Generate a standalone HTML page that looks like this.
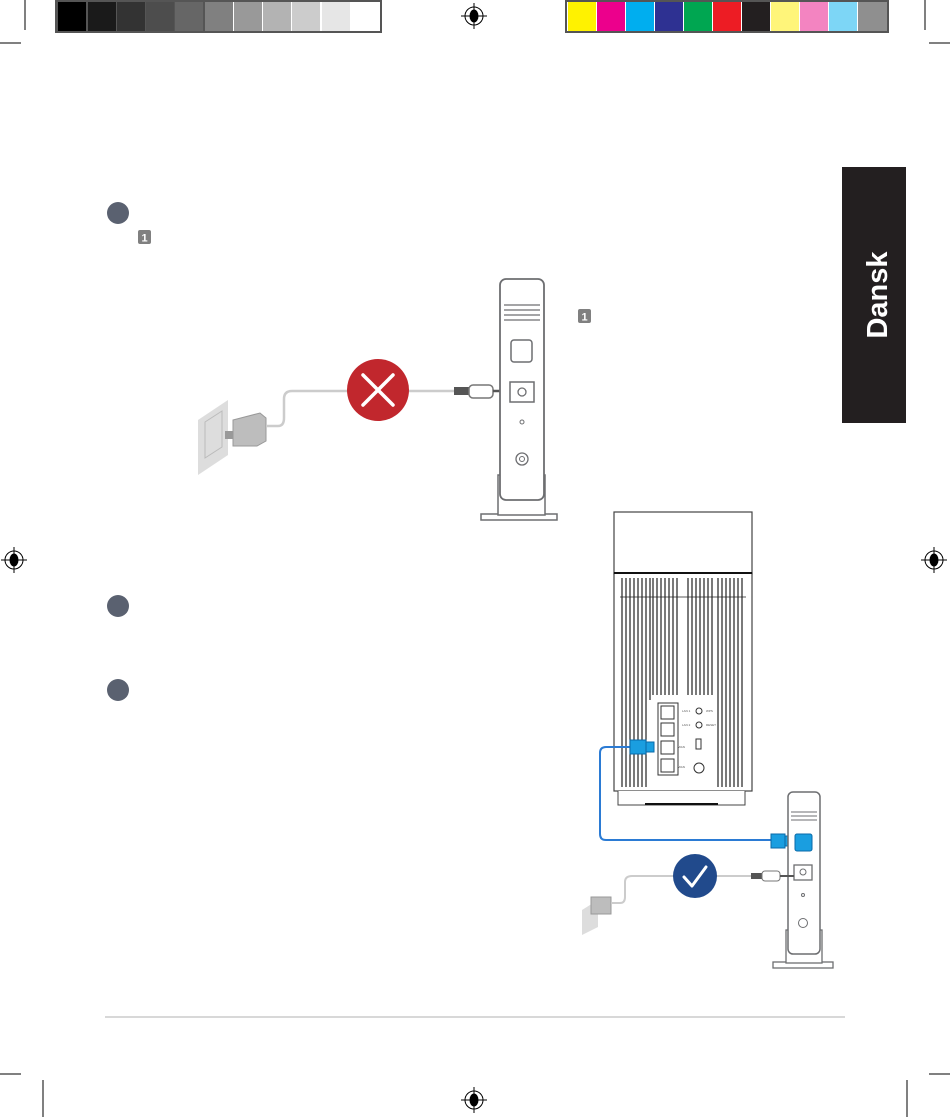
<!DOCTYPE html>
<html><head><meta charset="utf-8"><style>
html,body{margin:0;padding:0;background:#fff;width:950px;height:1117px;overflow:hidden}
svg{display:block}
</style></head><body>
<svg width="950" height="1117" viewBox="0 0 950 1117" xmlns="http://www.w3.org/2000/svg" font-family="Liberation Sans, sans-serif">
<!-- crop marks -->
<g stroke="#000" stroke-width="1">
<line x1="25" y1="0" x2="25" y2="30"/><line x1="0" y1="43" x2="21" y2="43"/>
<line x1="925" y1="0" x2="925" y2="30"/><line x1="929" y1="43" x2="950" y2="43"/>
<line x1="43" y1="1080" x2="43" y2="1117"/><line x1="0" y1="1074" x2="21" y2="1074"/>
<line x1="907" y1="1080" x2="907" y2="1117"/><line x1="929" y1="1074" x2="950" y2="1074"/>
</g>
<!-- gray bar -->
<rect x="56" y="1" width="156" height="31" fill="#555"/>
<g>
<rect x="58" y="2" width="28" height="29" fill="#000"/>
<rect x="88" y="2" width="28" height="29" fill="#1a1a1a"/>
<rect x="117" y="2" width="28" height="29" fill="#333"/>
<rect x="146" y="2" width="28" height="29" fill="#4d4d4d"/>
<rect x="175" y="2" width="28" height="29" fill="#666"/>
<rect x="205" y="2" width="28" height="29" fill="#808080"/>
<rect x="234" y="2" width="28" height="29" fill="#999"/>
<rect x="263" y="2" width="28" height="29" fill="#b3b3b3"/>
<rect x="292" y="2" width="28" height="29" fill="#ccc"/>
<rect x="322" y="2" width="28" height="29" fill="#e6e6e6"/>
<rect x="351" y="2" width="28" height="29" fill="#fff"/>
</g>
<rect x="56" y="1" width="325" height="31" fill="none" stroke="#555" stroke-width="2"/>
<g>
<rect x="568" y="2" width="28" height="29" fill="#fff200"/>
<rect x="597" y="2" width="28" height="29" fill="#ec008c"/>
<rect x="626" y="2" width="28" height="29" fill="#00aeef"/>
<rect x="655" y="2" width="28" height="29" fill="#2e3192"/>
<rect x="684" y="2" width="28" height="29" fill="#00a651"/>
<rect x="713" y="2" width="28" height="29" fill="#ed1c24"/>
<rect x="742" y="2" width="28" height="29" fill="#231f20"/>
<rect x="771" y="2" width="28" height="29" fill="#fff57a"/>
<rect x="800" y="2" width="28" height="29" fill="#f384c1"/>
<rect x="829" y="2" width="28" height="29" fill="#7dd6f6"/>
<rect x="858" y="2" width="29" height="29" fill="#8f8f8f"/>
</g>
<rect x="566" y="1" width="322" height="31" fill="none" stroke="#555" stroke-width="2"/>
<!-- registration marks -->
<g id="reg" fill="none" stroke="#000" stroke-width="1">
<circle cx="474" cy="16" r="9"/><line x1="474" y1="3" x2="474" y2="29"/><line x1="461" y1="16" x2="487" y2="16"/>
<ellipse cx="474" cy="16" rx="4" ry="6" fill="#000"/>
</g>
<g transform="translate(-460,544)"><use href="#reg"/></g>
<g transform="translate(460,544)"><use href="#reg"/></g>
<g transform="translate(0,1084)"><use href="#reg"/></g>
<!-- Dansk tab -->
<rect x="842" y="167" width="64" height="256" fill="#231f20"/>
<text transform="translate(887,295) rotate(-90)" text-anchor="middle" fill="#fff" font-weight="bold" font-size="29">Dansk</text>
<!-- step circles -->
<circle cx="118" cy="213" r="11" fill="#5a6170"/>
<circle cx="118" cy="606" r="11" fill="#5a6170"/>
<circle cx="118" cy="690" r="11" fill="#5a6170"/>
<rect x="138" y="230" width="13" height="14" rx="2" fill="#808080"/>
<text x="144.5" y="241.5" text-anchor="middle" fill="#fff" font-size="11" font-weight="bold">1</text>
<rect x="578" y="309" width="13" height="14" rx="2" fill="#808080"/>
<text x="584.5" y="320.5" text-anchor="middle" fill="#fff" font-size="11" font-weight="bold">1</text>
<!-- bottom rule -->
<line x1="105" y1="1017" x2="845" y2="1017" stroke="#ccc" stroke-width="1.5"/>

<!-- TOP: outlet + adapter -->
<polygon points="198,420 228,400 228,455 198,475" fill="#ddd"/>
<polygon points="205,422 222,411 222,447 205,458" fill="none" stroke="#bbb"/>
<rect x="225" y="431" width="10" height="8" fill="#999"/>
<polygon points="233,420 260,413 266,418 266,441 257,446 233,446" fill="#bdbdbd" stroke="#999"/>
<path d="M266,426 H278 Q284,426 284,418 V399 Q284,391 292,391 H440" fill="none" stroke="#ccc" stroke-width="2.5"/>
<line x1="440" y1="391" x2="455" y2="391" stroke="#ccc" stroke-width="2.5"/>
<circle cx="378" cy="390" r="31" fill="#c1272d"/>
<g stroke="#fff" stroke-width="3.5" stroke-linecap="round"><line x1="363" y1="375" x2="393" y2="405"/><line x1="393" y1="375" x2="363" y2="405"/></g>
<rect x="454" y="387" width="15" height="8" fill="#555"/>
<rect x="469" y="385" width="24" height="13" rx="4" fill="#fff" stroke="#777" stroke-width="1.5"/>
<line x1="493" y1="391" x2="510" y2="391" stroke="#555" stroke-width="2.5"/>
<!-- top modem -->
<rect x="481" y="514" width="76" height="6" fill="#fff" stroke="#6d6e71" stroke-width="1.5"/>
<rect x="498" y="475" width="47" height="40" fill="#fff" stroke="#6d6e71" stroke-width="1.5"/>
<rect x="500" y="279" width="44" height="221" rx="6" fill="#fff" stroke="#6d6e71" stroke-width="1.8"/>
<g stroke="#6d6e71" stroke-width="1.2"><line x1="504" y1="305" x2="540" y2="305"/><line x1="504" y1="310" x2="540" y2="310"/><line x1="504" y1="315" x2="540" y2="315"/><line x1="504" y1="320" x2="540" y2="320"/></g>
<rect x="511" y="340" width="21" height="22" rx="3" fill="#fff" stroke="#6d6e71" stroke-width="1.5"/>
<rect x="510" y="382" width="24" height="20" fill="#fff" stroke="#6d6e71" stroke-width="1.5"/>
<circle cx="522" cy="392" r="4" fill="none" stroke="#6d6e71" stroke-width="1.3"/>
<circle cx="522" cy="422" r="2" fill="none" stroke="#6d6e71"/>
<circle cx="522" cy="459" r="6" fill="none" stroke="#6d6e71" stroke-width="1.3"/>
<circle cx="522" cy="459" r="2.5" fill="none" stroke="#6d6e71"/>

<!-- Mesh router -->
<rect x="614" y="512" width="138" height="62" fill="#fff" stroke="#444" stroke-width="1.2"/>
<rect x="614" y="573" width="138" height="218" fill="#fff" stroke="#444" stroke-width="1.2"/>
<line x1="614" y1="573" x2="752" y2="573" stroke="#111" stroke-width="2"/>
<path d="M618,791 V805 H745 V791" fill="#fff" stroke="#444"/>
<line x1="645" y1="804" x2="718" y2="804" stroke="#111" stroke-width="2"/>
<g stroke="#222" stroke-width="1.2">
<line x1="622" y1="578" x2="622" y2="787"/><line x1="626" y1="578" x2="626" y2="787"/><line x1="630" y1="578" x2="630" y2="787"/><line x1="634" y1="578" x2="634" y2="787"/><line x1="638" y1="578" x2="638" y2="787"/><line x1="642" y1="578" x2="642" y2="787"/><line x1="646" y1="578" x2="646" y2="787"/><line x1="650" y1="578" x2="650" y2="700"/>
<line x1="653" y1="578" x2="653" y2="695"/><line x1="657" y1="578" x2="657" y2="695"/><line x1="661" y1="578" x2="661" y2="695"/><line x1="665" y1="578" x2="665" y2="695"/><line x1="669" y1="578" x2="669" y2="695"/><line x1="673" y1="578" x2="673" y2="695"/><line x1="677" y1="578" x2="677" y2="695"/>
<line x1="688" y1="578" x2="688" y2="695"/><line x1="692" y1="578" x2="692" y2="695"/><line x1="696" y1="578" x2="696" y2="695"/><line x1="700" y1="578" x2="700" y2="695"/><line x1="704" y1="578" x2="704" y2="695"/><line x1="708" y1="578" x2="708" y2="695"/><line x1="712" y1="578" x2="712" y2="695"/>
<line x1="718" y1="578" x2="718" y2="787"/><line x1="722" y1="578" x2="722" y2="787"/><line x1="726" y1="578" x2="726" y2="787"/><line x1="730" y1="578" x2="730" y2="787"/><line x1="734" y1="578" x2="734" y2="787"/><line x1="738" y1="578" x2="738" y2="787"/><line x1="742" y1="578" x2="742" y2="787"/>
</g>
<g stroke="#222" stroke-width="0.8"><line x1="620" y1="597" x2="746" y2="597"/></g>
<rect x="658" y="703" width="20" height="72" fill="#fff" stroke="#333"/>
<g fill="#fff" stroke="#333"><rect x="661" y="706" width="13" height="13"/><rect x="661" y="723" width="13" height="13"/><rect x="661" y="741" width="13" height="13"/><rect x="661" y="759" width="13" height="13"/></g>
<circle cx="699" cy="711" r="3" fill="none" stroke="#333"/><circle cx="699" cy="725" r="3" fill="none" stroke="#333"/>
<rect x="696" y="739" width="5" height="10" fill="none" stroke="#333"/>
<circle cx="699" cy="768" r="5" fill="none" stroke="#333"/>
<g font-size="3" fill="#555"><text x="682" y="712">LAN 1</text><text x="682" y="726">LAN 2</text><text x="706" y="712">WPS</text><text x="706" y="726">RESET</text><text x="678" y="748">WAN</text><text x="678" y="768">WAN</text></g>

<!-- blue ethernet cable -->
<path d="M640,747 H606 Q600,747 600,753 V834 Q600,840 606,840 H775" fill="none" stroke="#2b7bd4" stroke-width="2"/>
<rect x="630" y="740" width="16" height="14" fill="#1a9ee0" stroke="#0a6aa8"/>
<rect x="646" y="742" width="8" height="10" fill="#1a9ee0" stroke="#0a6aa8"/>
<rect x="771" y="834" width="14" height="14" fill="#1a9ee0" stroke="#0a6aa8"/>
<rect x="785" y="836" width="8" height="10" fill="#1a9ee0" stroke="#0a6aa8"/>

<!-- bottom modem -->
<rect x="773" y="962" width="60" height="6" fill="#fff" stroke="#6d6e71" stroke-width="1.3"/>
<rect x="786" y="930" width="36" height="33" fill="#fff" stroke="#6d6e71" stroke-width="1.3"/>
<rect x="788" y="792" width="32" height="162" rx="5" fill="#fff" stroke="#6d6e71" stroke-width="1.5"/>
<g stroke="#6d6e71"><line x1="791" y1="812" x2="817" y2="812"/><line x1="791" y1="816" x2="817" y2="816"/><line x1="791" y1="820" x2="817" y2="820"/></g>
<rect x="795" y="834" width="17" height="17" rx="2" fill="#1a9ee0" stroke="#0a6aa8"/>
<rect x="794" y="865" width="18" height="15" fill="#fff" stroke="#6d6e71" stroke-width="1.3"/>
<circle cx="803" cy="872" r="3" fill="none" stroke="#6d6e71"/>
<circle cx="803" cy="895" r="1.5" fill="none" stroke="#6d6e71"/>
<circle cx="803" cy="923" r="4.5" fill="none" stroke="#6d6e71"/>
<!-- bottom power -->
<polygon points="582,910 598,900 598,927 582,935" fill="#ddd"/>
<rect x="591" y="897" width="20" height="17" fill="#bdbdbd" stroke="#999"/>
<path d="M611,903 H620 Q625,903 625,897 V882 Q625,876 632,876 H762" fill="none" stroke="#ccc" stroke-width="2"/>
<circle cx="695" cy="876" r="22" fill="#214a8c"/>
<path d="M684,877 L692,886 L706,867" fill="none" stroke="#fff" stroke-width="3" stroke-linecap="round" stroke-linejoin="round"/>
<rect x="751" y="873" width="12" height="6" fill="#555"/>
<rect x="762" y="871" width="18" height="10" rx="3" fill="#fff" stroke="#777"/>
<line x1="780" y1="876" x2="794" y2="876" stroke="#555" stroke-width="2"/>
</svg>
</body></html>
